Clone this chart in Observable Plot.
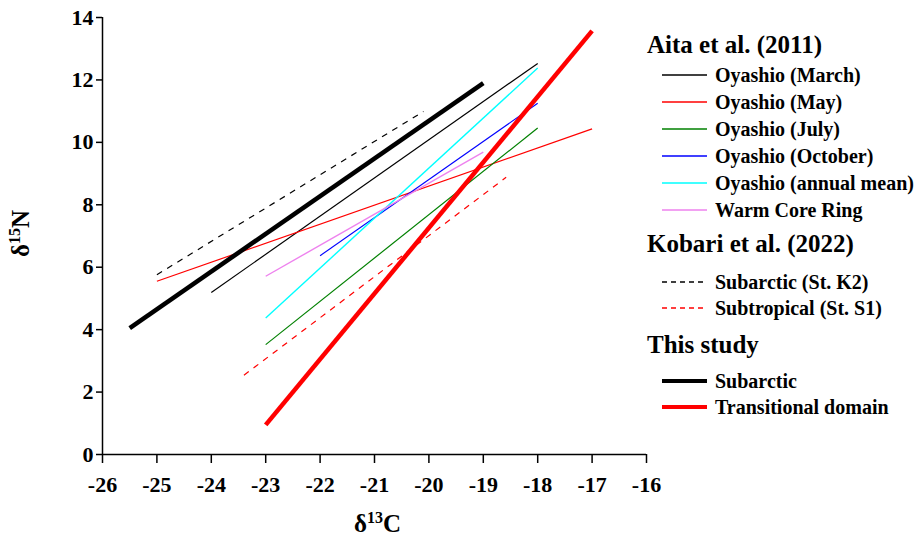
<!DOCTYPE html>
<html>
<head>
<meta charset="utf-8">
<script src="https://cdn.jsdelivr.net/npm/d3@7"></script>
<script src="https://cdn.jsdelivr.net/npm/@observablehq/plot@0.6"></script>
<style>
  body { margin: 0; background: #fff; }
  #wrap { position: relative; width: 919px; height: 540px; font-family: "Liberation Serif", "Times New Roman", serif; font-weight: bold; color: #000; }
  #wrap > svg { position: absolute; left: 0; top: 0; }
  .ttl { position: absolute; font-size: 25px; white-space: nowrap; line-height: 25px; }
  .ttl sup { font-size: 16px; vertical-align: 9px; line-height: 0; }
  #legend { position: absolute; left: 647px; top: 0; width: 272px; height: 540px; }
  .lh { position: absolute; font-size: 25px; line-height: 25px; white-space: nowrap; left: 0; }
  .li { position: absolute; font-size: 20px; white-space: nowrap; left: 15px; height: 24px; display: flex; align-items: center; }
  .li svg { display: block; margin-right: 8px; }
</style>
</head>
<body>
<div id="wrap"></div>
<script>
// ---- data ----
const series = [
  "Oyashio (March)", "Oyashio (May)", "Oyashio (July)", "Oyashio (October)",
  "Oyashio (annual mean)", "Warm Core Ring",
  "Subarctic (St. K2)", "Subtropical (St. S1)",
  "Subarctic", "Transitional domain"
];
const groups = ["Aita et al. (2011)", "Kobari et al. (2022)", "This study"];
const seriesGroup = [0, 0, 0, 0, 0, 0, 1, 1, 2, 2];
const x1 = [-24, -25, -23, -22, -23, -23, -25, -23.4, -25.5, -23];
const y1 = [5.19, 5.55, 3.52, 6.37, 4.37, 5.71, 5.76, 2.54, 4.05, 0.95];
const x2 = [-18, -17, -18, -18, -18, -19, -20.1, -18.58, -19, -17];
const y2 = [12.53, 10.43, 10.46, 11.25, 12.38, 9.69, 10.99, 8.88, 11.9, 13.57];
const xTicks = [-26, -25, -24, -23, -22, -21, -20, -19, -18, -17, -16];
const yTicks = [0, 2, 4, 6, 8, 10, 12, 14];

// ---- styles ----
const styles = {
  "Oyashio (March)": {stroke: "#000000", w: 1.2, dash: null},
  "Oyashio (May)": {stroke: "#ff0000", w: 1.2, dash: null},
  "Oyashio (July)": {stroke: "#008000", w: 1.2, dash: null},
  "Oyashio (October)": {stroke: "#0000ff", w: 1.2, dash: null},
  "Oyashio (annual mean)": {stroke: "#00ffff", w: 1.4, dash: null},
  "Warm Core Ring": {stroke: "#ee82ee", w: 1.4, dash: null},
  "Subarctic (St. K2)": {stroke: "#000000", w: 1.2, dash: "6,6"},
  "Subtropical (St. S1)": {stroke: "#ff0000", w: 1.2, dash: "6,6"},
  "Subarctic": {stroke: "#000000", w: 4.5, dash: null},
  "Transitional domain": {stroke: "#ff0000", w: 4.5, dash: null}
};

const table = series.flatMap((s, i) => [
  {s, x: x1[i], y: y1[i]},
  {s, x: x2[i], y: y2[i]}
]);

const lineMarks = series.map(s => {
  const st = styles[s];
  return Plot.line(table.filter(d => d.s === s), {
    x: "x", y: "y", stroke: st.stroke, strokeWidth: st.w,
    strokeDasharray: st.dash || undefined, strokeLinecap: "butt"
  });
});

const SERIF = '"Liberation Serif", "Times New Roman", serif';
const chart = Plot.plot({
  width: 919,
  height: 540,
  marginLeft: 102,
  marginRight: 273,
  marginTop: 17,
  marginBottom: 86,
  style: {fontWeight: "bold", fontSize: "22px", color: "#000", background: "transparent", fontFamily: SERIF},
  x: {domain: [-26, -16]},
  y: {domain: [0, 14]},
  marks: [
    Plot.axisX({ticks: xTicks, tickFormat: d => String(d), tickSize: 9, tickPadding: 13, label: null, strokeWidth: 1.5}),
    Plot.axisY({ticks: yTicks, tickFormat: d => String(d), tickSize: 6, tickPadding: 3, label: null, strokeWidth: 1.5}),
    ...lineMarks,
    Plot.ruleX([-26], {strokeWidth: 1.5}),
    Plot.ruleY([0], {strokeWidth: 1.5})
  ]
});

// force serif bold tick labels
d3.select(chart).selectAll("text")
  .attr("font-family", SERIF)
  .style("font-family", SERIF)
  .style("font-weight", "bold")
  .style("font-size", "22px")
  .style("font-variant", "normal");
d3.select(chart).selectAll("g[aria-label$='tick label']")
  .attr("font-family", SERIF)
  .style("font-family", SERIF);

const wrap = document.getElementById("wrap");
wrap.appendChild(chart);

// axis titles
const xt = document.createElement("div");
xt.className = "ttl";
xt.innerHTML = "δ<sup>13</sup>C";
xt.style.left = "354px"; xt.style.top = "511px";
wrap.appendChild(xt);

const yt = document.createElement("div");
yt.className = "ttl";
yt.innerHTML = "δ<sup>15</sup>N";
yt.style.left = "-3px"; yt.style.top = "221px";
yt.style.transform = "rotate(-90deg)";
wrap.appendChild(yt);

// legend
const legend = document.createElement("div");
legend.id = "legend";
wrap.appendChild(legend);
const headTop = [32, 231, 332];
const itemCenter = [75, 102, 129, 156, 183, 210, 282, 308, 381, 407];
groups.forEach((g, i) => {
  const h = document.createElement("div");
  h.className = "lh"; h.textContent = g;
  h.style.top = headTop[i] + "px";
  legend.appendChild(h);
});
series.forEach((s, i) => {
  const st = styles[s];
  const it = document.createElement("div");
  it.className = "li";
  it.style.top = (itemCenter[i] - 12) + "px";
  const w = st.w > 3 ? 4 : 1.5;
  it.innerHTML = `<svg width="45" height="8"><line x1="0" x2="45" y1="4" y2="4" stroke="${st.stroke}" stroke-width="${w}" ${st.dash ? 'stroke-dasharray="5,4"' : ''}/></svg>` +
    `<span></span>`;
  it.querySelector("span").textContent = s;
  legend.appendChild(it);
});
</script>
</body>
</html>
